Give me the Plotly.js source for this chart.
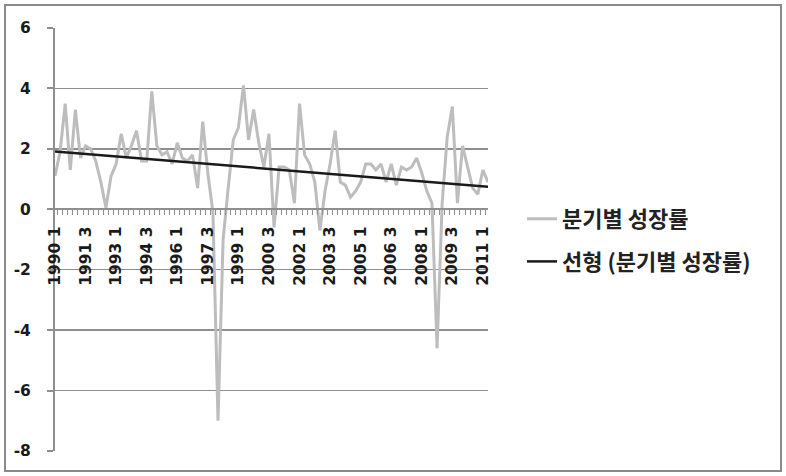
<!DOCTYPE html>
<html>
<head>
<meta charset="utf-8">
<script src="https://cdn.plot.ly/plotly-3.0.1.min.js"></script>
<style>
html,body{margin:0;padding:0;background:#fff;}
#chart{width:786px;height:476px;}
</style>
</head>
<body>
<div id="chart"></div>
<script>
// Quarterly categories (year quarter)
const quarters = [
'1990 1','1990 2','1990 3','1990 4','1991 1','1991 2','1991 3','1991 4',
'1992 1','1992 2','1992 3','1992 4','1993 1','1993 2','1993 3','1993 4',
'1994 1','1994 2','1994 3','1994 4','1995 1','1995 2','1995 3','1995 4',
'1996 1','1996 2','1996 3','1996 4','1997 1','1997 2','1997 3','1997 4',
'1998 1','1998 2','1998 3','1998 4','1999 1','1999 2','1999 3','1999 4',
'2000 1','2000 2','2000 3','2000 4','2001 1','2001 2','2001 3','2001 4',
'2002 1','2002 2','2002 3','2002 4','2003 1','2003 2','2003 3','2003 4',
'2004 1','2004 2','2004 3','2004 4','2005 1','2005 2','2005 3','2005 4',
'2006 1','2006 2','2006 3','2006 4','2007 1','2007 2','2007 3','2007 4',
'2008 1','2008 2','2008 3','2008 4','2009 1','2009 2','2009 3','2009 4',
'2010 1','2010 2','2010 3','2010 4','2011 1','2011 2'
];

// Quarterly growth rate (%)
const growth = [
1.1, 1.9, 3.5, 1.3, 3.3, 1.7, 2.1, 2.0,
1.6, 0.9, 0.05, 1.1, 1.5, 2.5, 1.7, 2.1,
2.6, 1.6, 1.6, 3.9, 2.1, 1.8, 1.9, 1.5,
2.2, 1.7, 1.6, 1.8, 0.7, 2.9, 1.2, -0.1,
-7.0, -1.0, 0.7, 2.3, 2.7, 4.1, 2.3, 3.3,
2.2, 1.4, 2.5, -0.6, 1.4, 1.4, 1.3, 0.2,
3.5, 1.8, 1.5, 0.9, -0.7, 0.6, 1.5, 2.6,
0.9, 0.8, 0.4, 0.6, 0.9, 1.5, 1.5, 1.3,
1.5, 0.9, 1.5, 0.8, 1.4, 1.3, 1.4, 1.7,
1.2, 0.6, 0.2, -4.6, 0.2, 2.4, 3.4, 0.2,
2.1, 1.4, 0.7, 0.5, 1.3, 0.9
];

// Linear trend line end values
const trendValues = [1.91, 0.75];

// Shown x tick labels
const tickLabels = ['1990 1','1991 3','1993 1','1994 3','1996 1','1997 3','1999 1',
  '2000 3','2002 1','2003 3','2005 1','2006 3','2008 1','2009 3','2011 1'];

const yTicks = [-8, -6, -4, -2, 0, 2, 4, 6];

const seriesName = '분기별 성장률';
const trendName = '선형 (분기별 성장률)';

const numFont = 'DejaVu Sans, sans-serif';
const korFont = 'Noto Sans CJK KR, sans-serif';
const gridGray = '#8f8f8f';

const traces = [
  {
    type: 'scatter', mode: 'lines', name: seriesName, legendgroup: 'a',
    x: quarters, y: growth,
    line: {color: '#bdbdbd', width: 3}
  },
  {
    type: 'scatter', mode: 'lines', name: trendName, legendgroup: 'b',
    x: [quarters[0], quarters[quarters.length - 1]], y: trendValues,
    line: {color: '#1a1a1a', width: 2.5}
  }
];

const yMin = -8, yMax = 6;

const layout = {
  width: 786, height: 476,
  margin: {l: 55, r: 298, t: 28, b: 25, pad: 0},
  paper_bgcolor: '#ffffff', plot_bgcolor: '#ffffff',
  showlegend: true,
  legend: {
    xref: 'container', yref: 'container',
    x: 522/786, xanchor: 'left',
    y: 1 - 198/476, yanchor: 'top',
    traceorder: 'grouped', tracegroupgap: 11,
    font: {family: korFont, size: 22, color: '#222', weight: 'bold'},
    bgcolor: 'rgba(0,0,0,0)'
  },
  xaxis: {
    type: 'category',
    anchor: 'free', position: (0 - yMin) / (yMax - yMin),
    tickmode: 'array',
    tickvals: quarters,
    ticktext: quarters.map(q => tickLabels.includes(q) ? q : ''),
    tickson: 'boundaries',
    ticks: 'outside', ticklen: 5, tickwidth: 1, tickcolor: gridGray,
    tickangle: -90,
    ticklabelstandoff: 10,
    tickfont: {family: numFont, size: 15.5, color: '#1a1a1a', weight: 'bold'},
    showline: true, linecolor: gridGray, linewidth: 2,
    showgrid: false, zeroline: false, fixedrange: true
  },
  yaxis: {
    range: [yMin, yMax],
    tickmode: 'array', tickvals: yTicks, ticktext: yTicks.map(String),
    ticks: 'outside', ticklen: 6, tickwidth: 2, tickcolor: gridGray,
    ticklabelstandoff: 13,
    tickfont: {family: numFont, size: 15.5, color: '#1a1a1a', weight: 'bold'},
    showline: true, linecolor: gridGray, linewidth: 2,
    showgrid: true, gridcolor: gridGray, gridwidth: 1.5,
    zeroline: false, fixedrange: true
  },
  shapes: [
    {
      type: 'rect', xref: 'paper', yref: 'paper',
      x0: (5 - 55) / 433, x1: (781 - 55) / 433,
      y0: (451 - 471) / 423, y1: (451 - 5) / 423,
      line: {color: '#8a8a8a', width: 2}, fillcolor: 'rgba(0,0,0,0)', layer: 'below'
    }
  ]
};

Plotly.newPlot('chart', traces, layout, {displayModeBar: false, staticPlot: true});
</script>
</body>
</html>
